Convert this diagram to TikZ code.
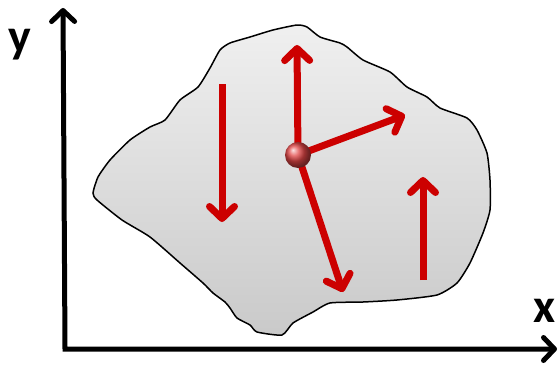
\documentclass[tikz,border=0pt]{standalone}
\usepackage{fontspec}
\setmainfont{Carlito}
\usetikzlibrary{arrows.meta,shadings}
\definecolor{forcered}{RGB}{204,0,0}
\definecolor{ballred}{RGB}{225,70,70}
\begin{document}
\begin{tikzpicture}[x=1pt,y=-1pt,
    axis/.style={line width=5pt, line join=miter,
      {Straight Barb[length=11pt,width=23pt,line cap=round,line join=round]}-{Straight Barb[length=11pt,width=23pt,line cap=round,line join=round]}},
    force/.style={draw=forcered, line width=7pt,
      -{Straight Barb[length=12pt,width=25pt,line cap=round,line join=round]}},
    blob/.style={draw=black, line width=1.5pt, top color=gray!12, bottom color=gray!42},
    axislabel/.style={font=\fontsize{48}{48}\selectfont\bfseries, anchor=base, inner sep=0pt},
    particle/.style={circle, minimum size=26pt, inner sep=0pt, shading=ball, ball color=ballred}]

\useasboundingbox (0,0) rectangle (558,367);

% body
\path[blob] plot[smooth cycle, tension=0.35] coordinates {
  (93,193) (98,177) (110,160) (130,140) (150,127) (165,120) (180,100) (198,87)
  (210,68) (220,50) (230,43) (250,37) (273,30) (297,25) (307,27) (320,37)
  (340,43) (347,47) (363,60) (390,72) (407,87) (427,97) (440,108) (467,118)
  (477,130) (487,153) (490,180) (490,210) (483,233) (470,263) (457,283) (437,295)
  (397,300) (363,302) (330,303) (313,312) (293,323) (282,335) (257,332) (250,325)
  (237,318) (230,308) (225,302) (213,293) (203,283) (180,263) (150,237) (122,220)
  (97,200)};

% axes
\coordinate (ytip) at (63,8);
\coordinate (origin) at (65,349);
\coordinate (xtip) at (557,349);
\draw[axis] (ytip) -- (origin) -- (xtip);
\node[axislabel] (ylabel) at (20,52) {y};
\node[axislabel] (xlabel) at (545,322) {x};

% forces
\coordinate (ctr) at (298,155);
\coordinate (downtail) at (222,84);
\coordinate (downtip) at (222,222);
\coordinate (uptail) at (423,280);
\coordinate (uptip) at (423,177);
\coordinate (tipn) at (297,45);
\coordinate (tipe) at (405,115);
\coordinate (tips) at (343,292);

\draw[force] (downtail) -- (downtip);
\draw[force] (uptail) -- (uptip);
\foreach \t in {tipn,tipe,tips}
  \draw[force] (ctr) -- (\t);

\node[particle] (ball) at (ctr) {};

\end{tikzpicture}
\end{document}
